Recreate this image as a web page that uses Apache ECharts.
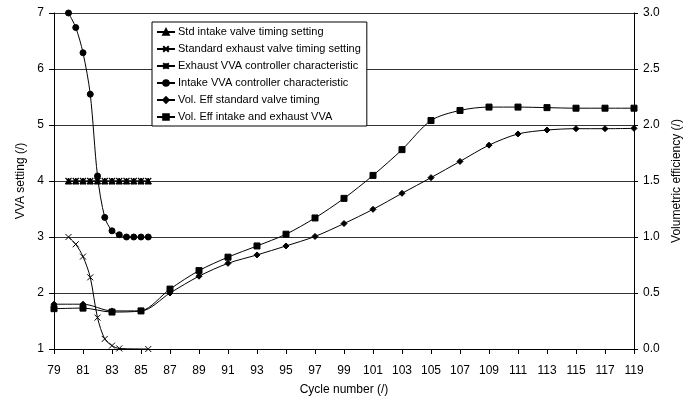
<!DOCTYPE html>
<html>
<head>
<meta charset="utf-8">
<script src="https://cdn.jsdelivr.net/npm/echarts@6/dist/echarts.min.js"></script>
<style>html,body{margin:0;padding:0;background:#fff}#c{width:688px;height:402px}</style>
</head>
<body>
<div id="c"></div>
<script>
// ---- data ----
const ctrlCycles = [80, 80.5, 81, 81.5, 82, 82.5, 83, 83.5, 84, 84.5, 85, 85.5];
const stdIntake = [4, 4, 4, 4, 4, 4, 4, 4, 4, 4, 4, 4];
const exhCycles = [80, 80.5, 81, 81.5, 82, 82.5, 83, 83.5, 85.5];
const stdExhaust = [3.0, 2.87, 2.65, 2.28, 1.56, 1.18, 1.06, 1.01, 1.0];
const exhVVA = [4, 4, 4, 4, 4, 4, 4, 4, 4, 4, 4, 4];
const intakeVVA = [7.0, 6.74, 6.29, 5.55, 4.09, 3.35, 3.11, 3.04, 3.0, 3.0, 3.0, 3.0];
const veCycles = [79, 81, 83, 85, 87, 89, 91, 93, 95, 97, 99, 101, 103, 105, 107, 109, 111, 113, 115, 117, 119];
const veStd = [0.40, 0.40, 0.34, 0.34, 0.50, 0.65, 0.765, 0.84, 0.92, 1.005, 1.12, 1.247, 1.39, 1.53, 1.675, 1.82, 1.92, 1.955, 1.967, 1.967, 1.97];
const veVVA = [0.36, 0.365, 0.33, 0.34, 0.535, 0.70, 0.82, 0.92, 1.025, 1.17, 1.345, 1.55, 1.78, 2.04, 2.13, 2.16, 2.16, 2.155, 2.15, 2.15, 2.15];
const seriesNames = [
  'Std intake valve timing setting',
  'Standard exhaust valve timing setting',
  'Exhaust VVA controller characteristic',
  'Intake VVA controller characteristic',
  'Vol. Eff standard valve timing',
  'Vol. Eff intake and exhaust VVA'
];

const pair = (xs, ys) => xs.map((x, i) => [x, ys[i]]);
const FONT = 'Liberation Sans, Arial, sans-serif';
const xPath = 'path://M0,0L10,10M10,0L0,10';
const starPath = 'path://M0,0L10,10M10,0L0,10M5,0L5,10';

function mk(name, data, symbol, size, yIdx, extra) {
  return Object.assign({
    name: name, type: 'line', data: data, yAxisIndex: yIdx,
    symbol: symbol, symbolSize: size, smooth: 0.3,
    lineStyle: { color: '#000', width: 1 },
    itemStyle: { color: '#000', borderColor: '#000', borderWidth: 1 },
    animation: false, z: 3
  }, extra || {});
}

const chart = echarts.init(document.getElementById('c'), null, { renderer: 'canvas' });
chart.setOption({
  backgroundColor: '#fff',
  animation: false,
  textStyle: { fontFamily: FONT },
  grid: { left: 54, right: 54, top: 13, bottom: 53, containLabel: false, outerBoundsMode: 'none' },
  legend: {
    orient: 'vertical', left: 152, top: 22,
    backgroundColor: '#fff', borderColor: '#000', borderWidth: 1,
    padding: [3, 6, 2, 4], itemGap: 3, itemWidth: 18, itemHeight: 7,
    textStyle: { fontFamily: FONT, fontSize: 11, color: '#000', lineHeight: 14, padding: [0, 0, 0, -2] },
    data: seriesNames
  },
  xAxis: {
    type: 'value', min: 79, max: 119, interval: 2,
    name: 'Cycle number (/)', nameLocation: 'middle', nameGap: 35,
    nameTextStyle: { fontFamily: FONT, fontSize: 12, color: '#000' },
    axisLine: { show: true, onZero: false, lineStyle: { color: '#000', width: 1 } },
    axisTick: { show: true, length: 5, lineStyle: { color: '#000' } },
    axisLabel: { color: '#000', fontSize: 12, fontFamily: FONT, margin: 16 },
    splitLine: { show: false }
  },
  yAxis: [{
    type: 'value', min: 1, max: 7, interval: 1, position: 'left',
    name: 'VVA setting (/)', nameLocation: 'middle', nameGap: 24, nameRotate: 90,
    nameTextStyle: { fontFamily: FONT, fontSize: 12, color: '#000' },
    axisLine: { show: true, lineStyle: { color: '#000', width: 1 } },
    axisTick: { show: true, length: 5, lineStyle: { color: '#000' } },
    axisLabel: { color: '#000', fontSize: 12, fontFamily: FONT, margin: 10 },
    splitLine: { show: true, lineStyle: { color: '#333', width: 1 } }
  }, {
    type: 'value', min: 0, max: 3, interval: 0.5, position: 'right',
    name: 'Volumetric efficiency (/)', nameLocation: 'middle', nameGap: 34, nameRotate: 90,
    nameTextStyle: { fontFamily: FONT, fontSize: 12, color: '#000' },
    axisLine: { show: true, lineStyle: { color: '#000', width: 1 } },
    axisTick: { show: true, length: 4, lineStyle: { color: '#000' } },
    axisLabel: { color: '#000', fontSize: 12, fontFamily: FONT, margin: 9, formatter: v => v.toFixed(1) },
    splitLine: { show: false }
  }],
  series: [
    mk(seriesNames[0], pair(ctrlCycles, stdIntake), 'triangle', 6, 0),
    mk(seriesNames[1], pair(exhCycles, stdExhaust), xPath, 6, 0, { itemStyle: { color: 'none', borderColor: '#000', borderWidth: 1 } }),
    mk(seriesNames[2], pair(ctrlCycles, exhVVA), starPath, 6, 0, { itemStyle: { color: 'none', borderColor: '#000', borderWidth: 1.2 } }),
    mk(seriesNames[3], pair(ctrlCycles, intakeVVA), 'circle', 6, 0),
    mk(seriesNames[4], pair(veCycles, veStd), 'diamond', 6, 1),
    mk(seriesNames[5], pair(veCycles, veVVA), 'rect', 6, 1)
  ]
});
</script>
</body>
</html>
